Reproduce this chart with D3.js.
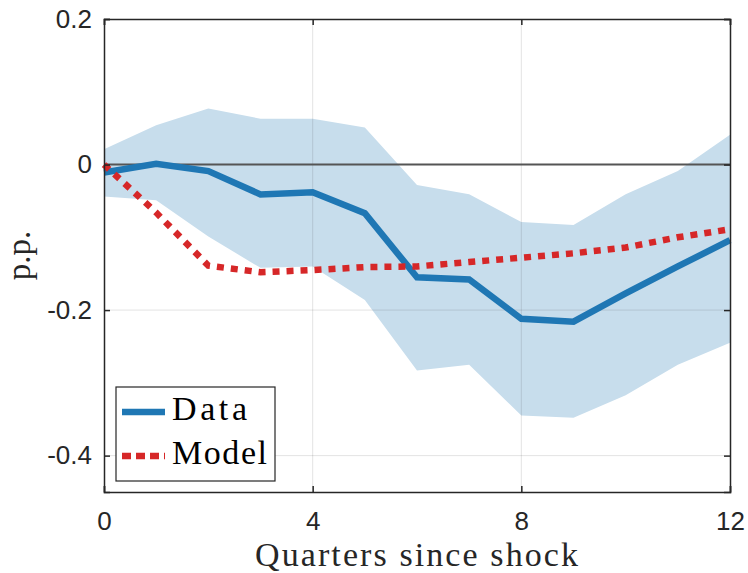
<!DOCTYPE html>
<html>
<head>
<meta charset="utf-8">
<script src="https://cdn.jsdelivr.net/npm/d3@7.9.0/dist/d3.min.js"></script>
<style>
  body { margin: 0; background: #fff; }
  svg { display: block; }
</style>
</head>
<body>
<div id="chart"></div>
<script>
// quarters since shock
const quarters = [0, 1, 2, 3, 4, 5, 6, 7, 8, 9, 10, 11, 12];
// estimated response (data) and its confidence band
const dataIrf = [-0.011, 0.001, -0.009, -0.041, -0.038, -0.067, -0.155, -0.158, -0.212, -0.216, -0.177, -0.140, -0.104];
const bandUpper = [0.021, 0.054, 0.077, 0.063, 0.063, 0.051, -0.028, -0.041, -0.079, -0.083, -0.041, -0.009, 0.041];
const bandLower = [-0.044, -0.049, -0.099, -0.142, -0.140, -0.186, -0.283, -0.275, -0.345, -0.348, -0.317, -0.275, -0.245];
// model response
const modelIrf = [0, -0.066, -0.139, -0.148, -0.145, -0.141, -0.140, -0.134, -0.128, -0.122, -0.114, -0.100, -0.089];

const xTicks = [0, 4, 8, 12];
const yTicks = [-0.4, -0.2, 0, 0.2];
const yTickLabels = ['-0.4', '-0.2', '0', '0.2'];

const width = 748;
const height = 573;
const margin = { top: 19, right: 18, bottom: 81, left: 104 };

const svg = d3.select('#chart')
  .append('svg')
  .attr('width', width)
  .attr('height', height);

const xScale = d3.scaleLinear()
  .domain([0, 12])
  .range([margin.left, width - margin.right]);

const yScale = d3.scaleLinear()
  .domain([-0.45, 0.2])
  .range([height - margin.bottom, margin.top]);

const axisColor = '#262626';
const serif = '"Liberation Serif", serif';

// confidence band
const area = d3.area()
  .x((d, i) => xScale(quarters[i]))
  .y0((d, i) => yScale(bandLower[i]))
  .y1((d, i) => yScale(bandUpper[i]));

svg.append('path')
  .datum(quarters)
  .attr('d', area)
  .attr('fill', 'rgb(199,221,236)');

// gridlines (drawn over the band, like matlab)
const grid = svg.append('g').attr('class', 'grid');
grid.selectAll('line.gx')
  .data(xTicks.slice(1, -1))
  .join('line')
  .attr('class', 'gx')
  .attr('x1', d => xScale(d)).attr('x2', d => xScale(d))
  .attr('y1', yScale(0.2)).attr('y2', yScale(-0.45))
  .attr('stroke', axisColor).attr('stroke-opacity', 0.13).attr('stroke-width', 1);
grid.selectAll('line.gy')
  .data(yTicks.slice(0, -1))
  .join('line')
  .attr('class', 'gy')
  .attr('x1', xScale(0)).attr('x2', xScale(12))
  .attr('y1', d => yScale(d)).attr('y2', d => yScale(d))
  .attr('stroke', axisColor).attr('stroke-opacity', 0.13).attr('stroke-width', 1);

// zero line
svg.append('line')
  .attr('x1', xScale(0)).attr('x2', xScale(12))
  .attr('y1', yScale(0)).attr('y2', yScale(0))
  .attr('stroke', '#555').attr('stroke-width', 2);

const line = d3.line()
  .x((d, i) => xScale(quarters[i]))
  .y(d => yScale(d));

svg.append('path')
  .datum(dataIrf)
  .attr('d', line)
  .attr('fill', 'none')
  .attr('stroke', '#1f77b4')
  .attr('stroke-width', 6.5);

svg.append('path')
  .datum(modelIrf)
  .attr('d', line)
  .attr('fill', 'none')
  .attr('stroke', '#d62728')
  .attr('stroke-width', 6.5)
  .attr('stroke-dasharray', '7,7');

// axes, ticks inside, box on
const xAxis = d3.axisBottom(xScale).tickValues(xTicks).tickSize(-6).tickPadding(20).tickFormat(d3.format('d'));
const yAxis = d3.axisLeft(yScale).tickValues(yTicks).tickSize(-6).tickPadding(12)
  .tickFormat((d, i) => yTickLabels[i]);

svg.append('g')
  .attr('transform', `translate(0, ${height - margin.bottom})`)
  .call(xAxis);
svg.append('g')
  .attr('transform', `translate(${margin.left}, 0)`)
  .call(yAxis);

svg.append('g')
  .attr('transform', `translate(0, ${margin.top})`)
  .call(d3.axisTop(xScale).tickValues(xTicks).tickSize(-6).tickFormat(''));
svg.append('g')
  .attr('transform', `translate(${width - margin.right}, 0)`)
  .call(d3.axisRight(yScale).tickValues(yTicks).tickSize(-6).tickFormat(''));

svg.selectAll('.domain').attr('stroke', axisColor).attr('stroke-width', 1.5);
svg.selectAll('.tick line').attr('stroke', axisColor).attr('stroke-width', 1.5);
svg.selectAll('.tick text')
  .attr('fill', axisColor)
  .style('font-family', '"Liberation Sans", Arial, sans-serif')
  .style('font-size', '26px');

// axis labels (latex-like serif, stretched to the reference widths)
svg.append('text')
  .attr('x', 255)
  .attr('y', 566)
  .attr('textLength', 323)
  .attr('lengthAdjust', 'spacing')
  .style('font-family', serif)
  .style('font-size', '34px')
  .attr('fill', axisColor)
  .text('Quarters since shock');

svg.append('text')
  .attr('transform', `translate(30, ${(yScale(0.2) + yScale(-0.45)) / 2}) rotate(-90)`)
  .attr('text-anchor', 'middle')
  .style('font-family', serif)
  .style('font-size', '33px')
  .attr('fill', axisColor)
  .text('p.p.');

// legend
const legend = svg.append('g').attr('transform', 'translate(116, 387)');
legend.append('rect')
  .attr('width', 159).attr('height', 94)
  .attr('fill', '#fff')
  .attr('stroke', axisColor).attr('stroke-width', 1.2);

const legendItems = [
  { name: 'Data', color: '#1f77b4', dash: null, y: 25, len: 75 },
  { name: 'Model', color: '#d62728', dash: '9,5', y: 69, len: 95 }
];
legendItems.forEach(item => {
  legend.append('line')
    .attr('x1', 6).attr('x2', 49)
    .attr('y1', item.y).attr('y2', item.y)
    .attr('stroke', item.color)
    .attr('stroke-width', 6.5)
    .attr('stroke-dasharray', item.dash);
  legend.append('text')
    .attr('x', 56).attr('y', item.y + 8)
    .attr('textLength', item.len)
    .attr('lengthAdjust', 'spacing')
    .style('font-family', serif)
    .style('font-size', '34px')
    .attr('fill', '#000')
    .text(item.name);
});
</script>
</body>
</html>
